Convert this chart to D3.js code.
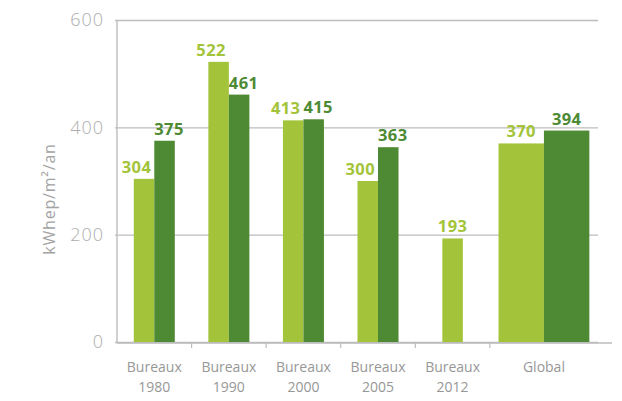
<!DOCTYPE html>
<html>
<head>
<meta charset="utf-8">
<script src="https://cdn.jsdelivr.net/npm/d3@7"></script>
<style>
  body { margin: 0; background: #fff; }
  text { font-family: "Open Sans", "DejaVu Sans", sans-serif; }
</style>
</head>
<body>
<script>
var categories = ['Bureaux 1980', 'Bureaux 1990', 'Bureaux 2000', 'Bureaux 2005', 'Bureaux 2012', 'Global'];
var seriesLight = [304, 522, 413, 300, 193, 370];
var seriesDark  = [375, 461, 415, 363, null, 394];
var yTicks = [0, 200, 400, 600];
var yLabel = 'kWhep/m\u00b2/an';

var chartWidth = 622,
    chartHeight = 401;

var colLight = '#a3c43a',
    colDark = '#4e8a34',
    grey = '#a3a3a3',
    gridCol = '#bdbdbd';

var plotLeft = 117, plotRight = 598, plotTop = 20, plotBottom = 342;

var svg = d3.select('body')
            .append('svg')
              .attr('xmlns', 'http://www.w3.org/2000/svg')
              .attr('width', chartWidth)
              .attr('height', chartHeight);

var y = d3.scaleLinear().domain([0, 600]).range([plotBottom, plotTop]);

// global band is wider than the others
var bandUnits = categories.map(function(c) { return c === 'Global' ? 1.45 : 1; });
var bandStart = [0];
bandUnits.forEach(function(u, i) { bandStart.push(bandStart[i] + u); });
var xu = d3.scaleLinear().domain([0, bandStart[bandStart.length - 1]]).range([plotLeft, plotRight]);

// gridlines + y labels
var yAxis = d3.axisLeft(y)
  .tickValues(yTicks)
  .tickSize(-(plotRight - plotLeft + 2))
  .tickPadding(11)
  .tickFormat(d3.format('d'));

var gy = svg.append('g')
  .attr('transform', 'translate(' + (plotLeft - 2) + ',0)')
  .call(yAxis);
gy.select('.domain').remove();
gy.selectAll('.tick line').attr('stroke', gridCol).attr('stroke-width', 1.4);
gy.selectAll('.tick text')
  .attr('fill', '#adadad')
  .style('font-size', '18px')
  .style('letter-spacing', '1px')
  .style('font-weight', 300);

// y axis line
svg.append('line')
  .attr('x1', plotLeft).attr('x2', plotLeft)
  .attr('y1', y(600)).attr('y2', y(0) + 1)
  .attr('stroke', gridCol).attr('stroke-width', 1.4);

svg.append('text')
  .attr('transform', 'translate(55,' + ((plotTop + plotBottom) / 2 + 18) + ') rotate(-90)')
  .attr('text-anchor', 'middle')
  .attr('fill', grey)
  .style('font-size', '16px')
  .style('letter-spacing', '0.8px')
  .text(yLabel);

// bars
var bars = [];
var labels = [];
categories.forEach(function(c, i) {
  var x0 = xu(bandStart[i]), x1 = xu(bandStart[i + 1]);
  var mid = (x0 + x1) / 2;
  var bw = (x1 - x0) * (c === 'Global' ? 0.42 : 0.275);
  var vals = [seriesLight[i], seriesDark[i]];
  var both = vals[0] != null && vals[1] != null;
  vals.forEach(function(v, k) {
    if (v == null) return;
    var bx = both ? (k === 0 ? mid - bw : mid) : mid - bw / 2;
    var col = k === 0 ? colLight : colDark;
    bars.push({ x: bx, w: bw, v: v, col: col });
    var lx, anchor;
    if (!both || c === 'Global') { lx = bx + bw / 2; anchor = 'middle'; }
    else if (k === 0) { lx = mid - 3; anchor = 'end'; }
    else { lx = mid; anchor = 'start'; }
    labels.push({ x: lx, v: v, anchor: anchor, col: col });
  });
});

svg.append('g').selectAll('rect')
  .data(bars)
  .join('rect')
    .attr('x', function(d) { return d.x; })
    .attr('width', function(d) { return d.w; })
    .attr('y', function(d) { return y(d.v); })
    .attr('height', function(d) { return y(0) - y(d.v); })
    .attr('fill', function(d) { return d.col; });

svg.append('g').selectAll('text')
  .data(labels)
  .join('text')
    .attr('x', function(d) { return d.x; })
    .attr('y', function(d) { return y(d.v) - 6; })
    .attr('text-anchor', function(d) { return d.anchor; })
    .attr('fill', function(d) { return d.col; })
    .style('font-size', '16.5px')
    .style('letter-spacing', '0.4px')
    .style('font-weight', 700)
    .text(function(d) { return d.v; });

// baseline and category ticks
svg.append('line')
  .attr('x1', plotLeft).attr('x2', 612)
  .attr('y1', y(0) + 1).attr('y2', y(0) + 1)
  .attr('stroke', gridCol).attr('stroke-width', 1.6);

svg.append('g').selectAll('line')
  .data(bandStart.slice(1, categories.length))
  .join('line')
    .attr('x1', function(d) { return xu(d); })
    .attr('x2', function(d) { return xu(d); })
    .attr('y1', y(0) + 1).attr('y2', y(0) + 6)
    .attr('stroke', gridCol).attr('stroke-width', 1.2);

// category labels
var catText = svg.append('g').selectAll('text')
  .data(categories)
  .join('text')
    .attr('x', function(d, i) { return (xu(bandStart[i]) + xu(bandStart[i + 1])) / 2; })
    .attr('y', 372)
    .attr('text-anchor', 'middle')
    .attr('fill', '#979797')
    .style('font-size', '14px');

catText.each(function(d) {
  var parts = d.split(' ');
  var t = d3.select(this);
  parts.forEach(function(p, j) {
    t.append('tspan')
      .attr('x', t.attr('x'))
      .attr('dy', j === 0 ? 0 : 20)
      .text(p);
  });
});
</script>
</body>
</html>
